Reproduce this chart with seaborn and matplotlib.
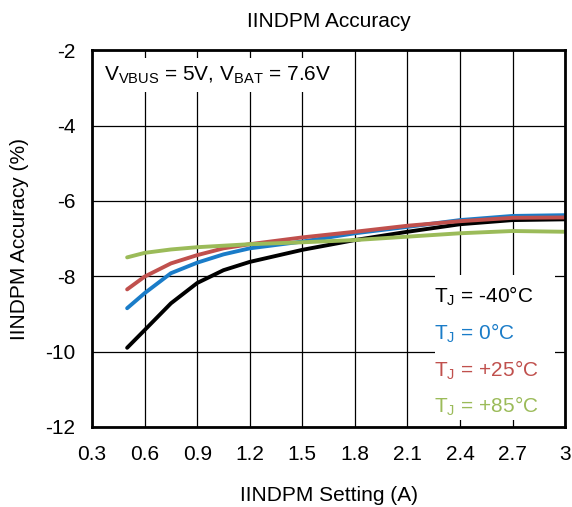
import matplotlib
matplotlib.use('Agg')
import matplotlib.pyplot as plt
from matplotlib.patches import Rectangle
import seaborn as sns
import pandas as pd

# IINDPM setting (A) and accuracy (%) per junction temperature
setting = [0.5, 0.6, 0.75, 0.9, 1.05, 1.2, 1.5, 1.8, 2.1, 2.4, 2.7, 3.0]
acc_m40 = [-9.90, -9.43, -8.72, -8.18, -7.84, -7.62, -7.30, -7.04, -6.82, -6.62, -6.51, -6.49]
acc_0 = [-8.85, -8.45, -7.92, -7.64, -7.42, -7.26, -7.08, -6.86, -6.69, -6.51, -6.40, -6.38]
acc_25 = [-8.35, -8.01, -7.66, -7.44, -7.26, -7.15, -6.97, -6.82, -6.66, -6.54, -6.45, -6.44]
acc_85 = [-7.50, -7.38, -7.29, -7.23, -7.19, -7.15, -7.10, -7.04, -6.95, -6.86, -6.80, -6.82]

labels = ['-40°C', '0°C', '+25°C', '+85°C']
colors = ['#000000', '#1a7cc8', '#c0504d', '#9bbb59']

frames = []
for lab, vals in zip(labels, [acc_m40, acc_0, acc_25, acc_85]):
    frames.append(pd.DataFrame({'setting': setting, 'acc': vals, 'temp': lab}))
df = pd.concat(frames, ignore_index=True)

sns.set_style('white')
plt.rcParams['font.family'] = ['Liberation Sans', 'DejaVu Sans']
plt.rcParams['axes.unicode_minus'] = False
plt.rcParams['text.color'] = 'black'
plt.rcParams['axes.labelcolor'] = 'black'
plt.rcParams['xtick.color'] = 'black'
plt.rcParams['ytick.color'] = 'black'

fig = plt.figure(figsize=(5.72, 5.07), dpi=100)
ax = fig.add_axes([0.161, 0.158, 0.827, 0.743])

sns.lineplot(data=df, x='setting', y='acc', hue='temp', palette=colors,
             linewidth=2.8, legend=False, ax=ax)

ax.set_xlim(0.3, 3.0)
ax.set_ylim(-12, -2)
ax.set_xticks([0.3, 0.6, 0.9, 1.2, 1.5, 1.8, 2.1, 2.4, 2.7, 3.0])
ax.set_xticklabels(['0.3', '0.6', '0.9', '1.2', '1.5', '1.8', '2.1', '2.4', '2.7', '3'])
ax.set_yticks([-12, -10, -8, -6, -4, -2])
ax.grid(True, color='black', linewidth=0.9)
ax.tick_params(labelsize=15, length=0)
ax.tick_params(axis='x', pad=13)
ax.tick_params(axis='y', pad=12)
for s in ax.spines.values():
    s.set_color('black')
    s.set_linewidth(2)
    s.set_zorder(5)

ax.set_xlabel('IINDPM Setting (A)', fontsize=15, labelpad=16)
ax.set_ylabel('IINDPM Accuracy (%)', fontsize=15, labelpad=12)
ax.set_title('IINDPM Accuracy', fontsize=15, pad=17)

# white boxes behind the annotations
ax.add_patch(Rectangle((0.0, 0.889), 0.524, 0.09, transform=ax.transAxes,
                       facecolor='white', edgecolor='none', zorder=3))
ax.add_patch(Rectangle((0.725, 0.018), 0.254, 0.385, transform=ax.transAxes,
                       facecolor='white', edgecolor='none', zorder=3))

ax.text(0.37, -2.66, r'V$_{\mathregular{VBUS}}$ = 5V, V$_{\mathregular{BAT}}$ = 7.6V',
        fontsize=15, va='center', ha='left', zorder=4)

ypos = [-8.53, -9.51, -10.49, -11.44]
for lab, c, yy in zip(labels, colors, ypos):
    ax.text(2.25, yy, r'T$_{\mathregular{J}}$ = ' + lab, color=c, fontsize=15,
            va='center', ha='left', zorder=4)

fig.savefig('out.png', dpi=100)
